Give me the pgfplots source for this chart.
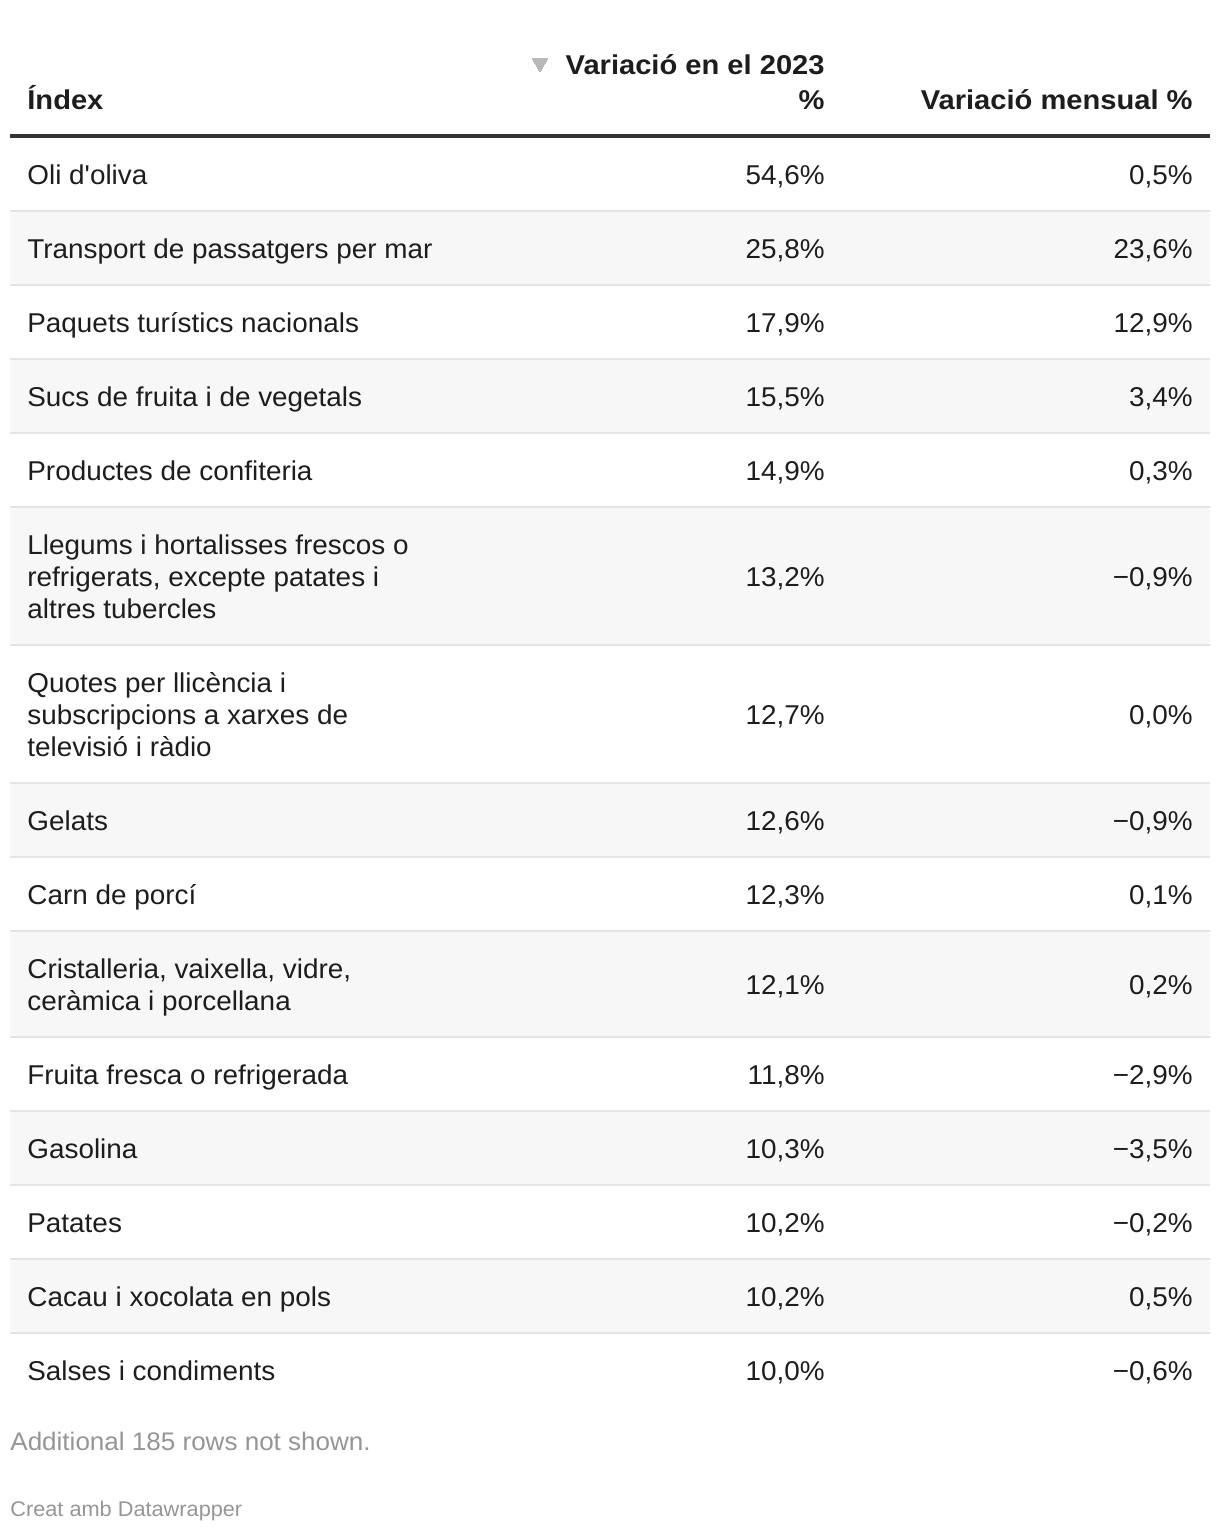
\documentclass[border=0pt]{standalone}
\usepackage{pgfplots}
\pgfplotsset{compat=1.18}
\usepackage{pgfplotstable}
\usepackage{fontspec}
\setmainfont{Liberation Sans}
\newfontfamily\tablefont{Liberation Sans}[FakeStretch=1.025, BoldFeatures={FakeStretch=1.07}]
\definecolor{txt}{HTML}{1D1D1D}
\definecolor{rowgray}{HTML}{F7F7F7}
\definecolor{sepgray}{HTML}{E4E4E4}
\definecolor{rulecol}{HTML}{333333}
\definecolor{foot}{HTML}{959595}
\definecolor{tri}{HTML}{B8B8B8}

% name lines: baseline y (px), text
\pgfplotstableread[col sep=semicolon]{
y;name
184;Oli d'oliva
258;Transport de passatgers per mar
332;Paquets turístics nacionals
406;Sucs de fruita i de vegetals
480;Productes de confiteria
554;Llegums i hortalisses frescos o
586;refrigerats, excepte patates i
618;altres tubercles
692;Quotes per llicència i
724;subscripcions a xarxes de
756;televisió i ràdio
830;Gelats
904;Carn de porcí
978;Cristalleria, vaixella, vidre,
1010;ceràmica i porcellana
1084;Fruita fresca o refrigerada
1158;Gasolina
1232;Patates
1306;Cacau i xocolata en pols
1380;Salses i condiments
}\names

% values: baseline y (px), variació 2023, variació mensual
\pgfplotstableread{
y a b
184 54.6 0.5
258 25.8 23.6
332 17.9 12.9
406 15.5 3.4
480 14.9 0.3
586 13.2 -0.9
724 12.7 0.0
830 12.6 -0.9
904 12.3 0.1
994.5 12.1 0.2
1084 11.8 -2.9
1158 10.3 -3.5
1232 10.2 -0.2
1306 10.2 0.5
1380 10.0 -0.6
}\vals

\def\fmtnum#1{\pgfmathprintnumber[fixed,fixed zerofill,precision=1,use comma,assume math mode=true]{#1}}
\def\fmtpct#1#2\relax{\ifx-#1−\fmtnum{#2}\else\fmtnum{#1#2}\fi\%}

\newcommand\rowfont{\fontsize{13.6}{16}\selectfont}

\begin{document}
\tablefont\rowfont
\begin{tikzpicture}
\begin{axis}[
  width=610pt, height=766pt, scale only axis,
  xmin=0, xmax=1220, ymin=0, ymax=1532, y dir=reverse,
  axis lines=none, ticks=none, clip=false,
]
\path (axis cs:0,0) rectangle (axis cs:1220,1532);

% alternating row backgrounds
\addplot[fill=rowgray, draw=none] coordinates {(10,211) (1210,211) (1210,285) (10,285)} -- cycle;
\addplot[fill=rowgray, draw=none] coordinates {(10,359) (1210,359) (1210,433) (10,433)} -- cycle;
\addplot[fill=rowgray, draw=none] coordinates {(10,507) (1210,507) (1210,645) (10,645)} -- cycle;
\addplot[fill=rowgray, draw=none] coordinates {(10,783) (1210,783) (1210,857) (10,857)} -- cycle;
\addplot[fill=rowgray, draw=none] coordinates {(10,931) (1210,931) (1210,1037) (10,1037)} -- cycle;
\addplot[fill=rowgray, draw=none] coordinates {(10,1111) (1210,1111) (1210,1185) (10,1185)} -- cycle;
\addplot[fill=rowgray, draw=none] coordinates {(10,1259) (1210,1259) (1210,1333) (10,1333)} -- cycle;

% row separators
\addplot[sepgray, line width=0.85pt, unbounded coords=jump] coordinates {
(10,211) (1210,211) (nan,nan)
(10,285) (1210,285) (nan,nan)
(10,359) (1210,359) (nan,nan)
(10,433) (1210,433) (nan,nan)
(10,507) (1210,507) (nan,nan)
(10,645) (1210,645) (nan,nan)
(10,783) (1210,783) (nan,nan)
(10,857) (1210,857) (nan,nan)
(10,931) (1210,931) (nan,nan)
(10,1037) (1210,1037) (nan,nan)
(10,1111) (1210,1111) (nan,nan)
(10,1185) (1210,1185) (nan,nan)
(10,1259) (1210,1259) (nan,nan)
(10,1333) (1210,1333)
};

% header rule
\addplot[rulecol, line width=1.75pt] coordinates {(10,136) (1210,136)};

% sort triangle
\addplot[tri, only marks, mark=triangle*, mark size=4.4pt,
  mark options={rotate=180, fill=tri, draw=tri, line width=0pt}] coordinates {(540,63)};

% header text
\node[anchor=base west, inner sep=0pt, text=txt, font=\rowfont\bfseries] at (axis cs:27,109) {Índex};
\node[anchor=base east, inner sep=0pt, text=txt, font=\rowfont\bfseries] at (axis cs:825,74) {Variació en el 2023};
\node[anchor=base east, inner sep=0pt, text=txt, font=\rowfont\bfseries] at (axis cs:825,109) {\%};
\node[anchor=base east, inner sep=0pt, text=txt, font=\rowfont\bfseries] at (axis cs:1193,109) {Variació mensual \%};

% names
\addplot[draw=none, nodes near coords, point meta=explicit symbolic,
  every node near coord/.append style={anchor=base west, inner sep=0pt, text=txt, font=\rowfont}]
  table[x expr=27, y=y, meta=name] {\names};

% values
\addplot[draw=none, point meta=explicit symbolic,
  nodes near coords={\expandafter\fmtpct\pgfplotspointmeta\relax},
  every node near coord/.append style={anchor=base east, inner sep=0pt, text=txt, font=\rowfont}]
  table[x expr=825, y=y, meta=a] {\vals};
\addplot[draw=none, point meta=explicit symbolic,
  nodes near coords={\expandafter\fmtpct\pgfplotspointmeta\relax},
  every node near coord/.append style={anchor=base east, inner sep=0pt, text=txt, font=\rowfont}]
  table[x expr=1193, y=y, meta=b] {\vals};

% footer
\node[anchor=base west, inner sep=0pt, text=foot, font=\fontsize{12.7}{14}\selectfont] at (axis cs:10,1450.5) {Additional 185 rows not shown.};
\node[anchor=base west, inner sep=0pt, text=foot, font=\fontsize{10.6}{12}\selectfont] at (axis cs:10,1516.5) {Creat amb Datawrapper};
\end{axis}
\end{tikzpicture}
\end{document}
